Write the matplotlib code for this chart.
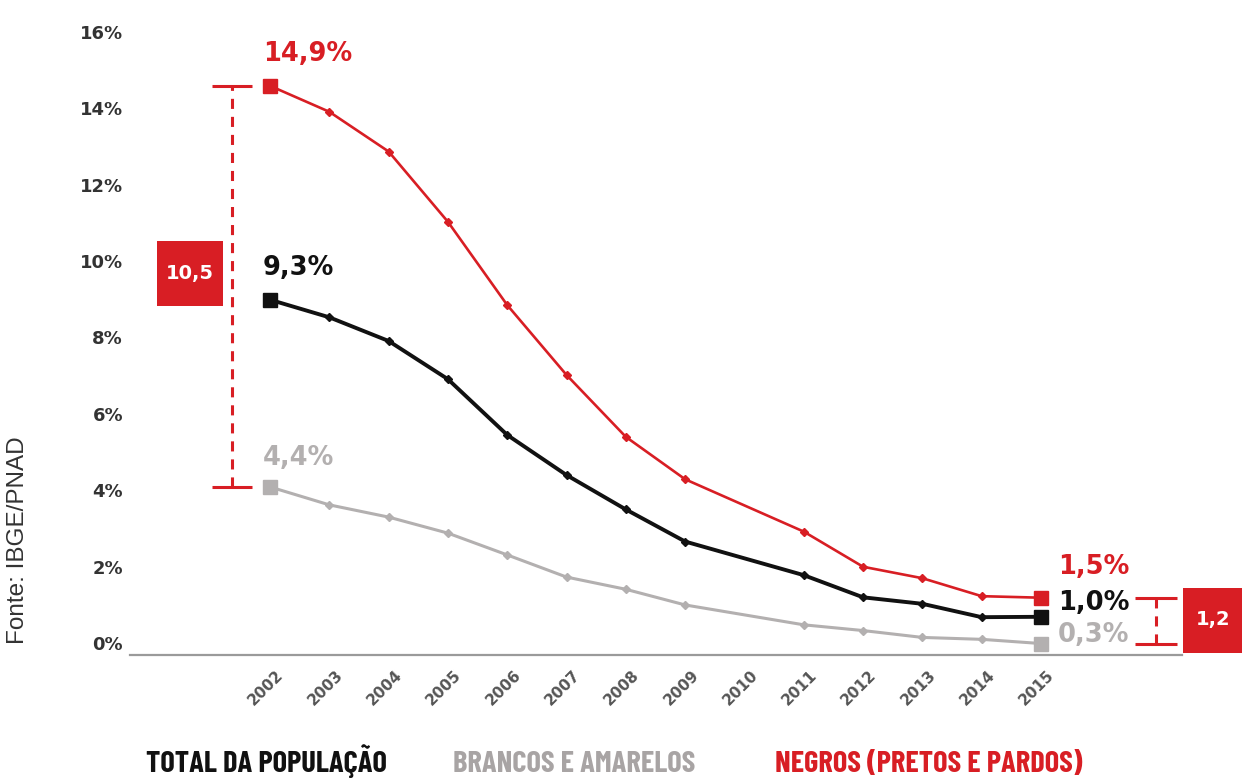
import matplotlib
matplotlib.use('Agg')
import matplotlib.pyplot as plt
from matplotlib import font_manager
from matplotlib.patches import Rectangle
from matplotlib.transforms import ScaledTranslation

# anos do eixo (2010 sem PNAD: fica so o rotulo)
anos = [2002, 2003, 2004, 2005, 2006, 2007, 2008, 2009, 2010, 2011, 2012, 2013, 2014, 2015]
anos_pnad = [2002, 2003, 2004, 2005, 2006, 2007, 2008, 2009, 2011, 2012, 2013, 2014, 2015]

total = [9.3, 8.84, 8.22, 7.22, 5.76, 4.71, 3.81, 2.97, 2.09, 1.51, 1.34, 0.99, 1.0]
brancos = [4.4, 3.93, 3.61, 3.19, 2.62, 2.04, 1.72, 1.31, 0.79, 0.64, 0.46, 0.41, 0.3]
negros = [14.9, 14.22, 13.18, 11.34, 9.16, 7.33, 5.71, 4.60, 3.23, 2.31, 2.01, 1.54, 1.5]

yticks = [0, 2, 4, 6, 8, 10, 12, 14, 16]
legenda = ['TOTAL DA POPULAÇÃO', 'BRANCOS E AMARELOS', 'NEGROS (PRETOS E PARDOS)']

VERMELHO = '#d81e24'
PRETO = '#111111'
CINZA = '#b3b0b0'

# fonte estreita para a legenda, se houver
familias = set(f.name for f in font_manager.fontManager.ttflist)
if 'Barlow Condensed' in familias:
    fam_leg, tam_leg = ['Barlow Condensed', 'DejaVu Sans'], 22
else:
    fam_leg, tam_leg = ['DejaVu Sans'], 14

def fmt(v):
    return ('%.1f' % v).replace('.', ',')

W, H = 1242, 780
fig = plt.figure(figsize=(W / 100, H / 100), dpi=100)
ax = fig.add_axes([130 / W, (H - 655) / H, (1182 - 130) / W, 16.5 * 38.2 / H])

ax.set_xlim(2002 - 140 / 59.3, 2015 + 141 / 59.3)
ax.set_ylim(0, 16.5)

for s in ['top', 'right', 'left']:
    ax.spines[s].set_visible(False)
ax.spines['bottom'].set_color('#9a9a9a')
ax.spines['bottom'].set_linewidth(1.6)

ax.set_yticks(yticks)
ax.set_yticklabels(['%d%%' % v for v in yticks], fontsize=13, fontweight='bold', color='#333333')
ax.tick_params(axis='y', length=0, pad=5)
desloc = ScaledTranslation(0, 12 / 100, fig.dpi_scale_trans)
for lab in ax.get_yticklabels():
    lab.set_transform(lab.get_transform() + desloc)

ax.set_xticks(anos)
ax.set_xticklabels([str(a) for a in anos], rotation=45, fontsize=11, fontweight='bold', color='#555555')
ax.tick_params(axis='x', length=0, pad=9)
desloc_x = ScaledTranslation(-4 / 100, 0, fig.dpi_scale_trans)
for lab in ax.get_xticklabels():
    lab.set_transform(lab.get_transform() + desloc_x)

series = [(brancos, CINZA, 2.2), (total, PRETO, 2.8), (negros, VERMELHO, 1.9)]
for vals, cor, lw in series:
    ax.plot(anos_pnad, vals, color=cor, lw=lw, marker='D', ms=4.5, zorder=3)
    ax.plot([anos_pnad[0], anos_pnad[-1]], [vals[0], vals[-1]], ls='none', marker='s',
            ms=10.5, color=cor, zorder=4, clip_on=False)

# rotulos de valor no inicio e no fim
inicio = [(negros, VERMELHO, 23), (total, PRETO, 23), (brancos, CINZA, 21)]
for vals, cor, dy in inicio:
    ax.annotate(fmt(vals[0]) + '%', xy=(anos_pnad[0], vals[0]), xytext=(-5, dy),
                textcoords='offset points', ha='left', va='center', fontsize=18.5,
                fontweight='bold', color=cor)
fim = [(negros, VERMELHO, 22), (total, PRETO, 10), (brancos, CINZA, 6)]
for vals, cor, dy in fim:
    ax.annotate(fmt(vals[-1]) + '%', xy=(anos_pnad[-1], vals[-1]), xytext=(12, dy),
                textcoords='offset points', ha='left', va='center', fontsize=18.5,
                fontweight='bold', color=cor, annotation_clip=False)

# chave da diferenca em 2002
xb = 2001.36
ax.vlines(xb, brancos[0], negros[0], color=VERMELHO, lw=2.2, linestyles=(0, (3.3, 2.6)), zorder=2)
ax.hlines([negros[0], brancos[0]], xb - 0.34, xb + 0.34, color=VERMELHO, lw=2.2, zorder=2)
ax.add_patch(Rectangle((2000.09, 9.14), 1.12, 1.70, color=VERMELHO, lw=0, zorder=2))
ax.text(2000.65, 9.99, fmt(negros[0] - brancos[0]), color='white', fontsize=14,
        fontweight='bold', ha='center', va='center', zorder=3)

# chave da diferenca em 2015
xd = 2016.94
ax.vlines(xd, brancos[-1], negros[-1], color=VERMELHO, lw=2.2, linestyles=(0, (3.3, 2.6)),
          zorder=2, clip_on=False)
ax.hlines([negros[-1], brancos[-1]], xd - 0.35, xd + 0.36, color=VERMELHO, lw=2.2,
          zorder=2, clip_on=False)
ax.add_patch(Rectangle((2017.40, 0.05), 1.3, 1.70, color=VERMELHO, lw=0, zorder=2, clip_on=False))
ax.text(2017.90, 0.92, fmt(negros[-1] - brancos[-1]), color='white', fontsize=14,
        fontweight='bold', ha='center', va='center', zorder=3, clip_on=False)

# legenda embaixo
cores_leg = [PRETO, '#a8a4a4', VERMELHO]
pos_leg = [146, 453, 775]
for txt, cor, x in zip(legenda, cores_leg, pos_leg):
    fig.text(x / W, 1 - 772 / H, txt, color=cor, fontsize=tam_leg, fontweight='bold',
             family=fam_leg, ha='left', va='baseline')

fig.text(18 / W, 1 - 540 / H, 'Fonte: IBGE/PNAD', rotation=90, fontsize=17.5,
         family=['Liberation Sans', 'DejaVu Sans'], color='#333333', ha='center', va='center')

fig.savefig('out.png', dpi=100)
